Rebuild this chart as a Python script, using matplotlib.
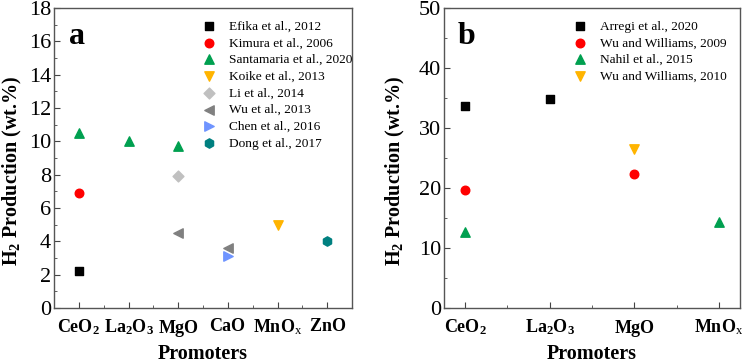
import matplotlib.pyplot as plt

plt.rcParams["font.family"] = "Liberation Serif"
plt.rcParams["mathtext.fontset"] = "custom"
plt.rcParams["mathtext.rm"] = "Liberation Serif"
plt.rcParams["mathtext.bf"] = "Liberation Serif:bold"
plt.rcParams["mathtext.it"] = "Liberation Serif:italic"

# panel a
cats_a = [r"$\mathbf{CeO_2}$", r"$\mathbf{La_2O_3}$", r"$\mathbf{MgO}$",
          r"$\mathbf{CaO}$", r"$\mathbf{MnO}_\mathrm{x}$", r"$\mathbf{ZnO}$"]
efika_x, efika_y = [1], [2.2]
kimura_x, kimura_y = [1], [6.9]
santamaria_x, santamaria_y = [1, 2, 3], [10.5, 10.0, 9.7]
koike_x, koike_y = [5], [4.95]
li_x, li_y = [3], [7.9]
wu13_x, wu13_y = [3, 4], [4.5, 3.6]
chen_x, chen_y = [4], [3.1]
dong_x, dong_y = [6], [4.0]

# panel b
cats_b = [r"$\mathbf{CeO_2}$", r"$\mathbf{La_2O_3}$", r"$\mathbf{MgO}$", r"$\mathbf{MnO}_\mathrm{x}$"]
arregi_x, arregi_y = [1, 2], [33.7, 34.9]
ww09_x, ww09_y = [1, 3], [19.6, 22.3]
nahil_x, nahil_y = [1, 4], [12.7, 14.4]
ww10_x, ww10_y = [3], [26.5]

BLACK = "#000000"
RED = "#ff0000"
GREEN = "#00a050"
ORANGE = "#ffb400"
LGREY = "#c0c0c0"
GREY = "#808080"
BLUE = "#6f94ff"
TEAL = "#008080"


def style_axes(ax, ymax, ystep, xlim, ncat, ylab_x):
    ax.set_xlim(*xlim)
    ax.set_ylim(0, ymax)
    ax.set_xticks(range(1, ncat + 1))
    ax.set_xticks([i + 0.5 for i in range(1, ncat)], minor=True)
    ax.set_yticks(range(0, ymax + 1, ystep))
    ax.set_yticks([v + ystep / 2 for v in range(0, ymax, ystep)], minor=True)
    ax.tick_params(which="both", direction="in", colors="#444444", labelcolor="black")
    ax.tick_params(which="major", length=4)
    ax.tick_params(which="minor", length=2)
    ax.tick_params(axis="y", labelsize=16, pad=2)
    ax.tick_params(axis="x", labelsize=13, pad=7)
    for s in ax.spines.values():
        s.set_color("#555555")
        s.set_linewidth(1.0)
    ax.set_xlabel("Promoters", fontsize=14.5, fontweight="bold", labelpad=4)
    ax.set_ylabel(r"$\mathbf{H_2}$ Production (wt.%)", fontsize=14.5, fontweight="bold")
    ax.yaxis.set_label_coords(ylab_x, 0.457)


fig = plt.figure(figsize=(7.42, 3.64), dpi=100)
ax1 = fig.add_axes([0.0728, 0.154, 0.4016, 0.824])
ax2 = fig.add_axes([0.5984, 0.154, 0.3989, 0.824])

ms = 38
ax1.scatter(efika_x, efika_y, marker="s", s=ms * 0.8, color=BLACK, label="Efika et al., 2012")
ax1.scatter(kimura_x, kimura_y, marker="o", s=ms, color=RED, label="Kimura et al., 2006")
ax1.scatter(santamaria_x, santamaria_y, marker="^", s=ms * 1.2, color=GREEN, label="Santamaria et al., 2020")
ax1.scatter(koike_x, koike_y, marker="v", s=ms * 1.2, color=ORANGE, label="Koike et al., 2013")
ax1.scatter(li_x, li_y, marker="D", s=ms * 0.8, color=LGREY, label="Li et al., 2014")
ax1.scatter(wu13_x, wu13_y, marker="<", s=ms * 1.2, color=GREY, label="Wu et al., 2013")
ax1.scatter(chen_x, chen_y, marker=">", s=ms * 1.2, color=BLUE, label="Chen et al., 2016")
ax1.scatter(dong_x, dong_y, marker="h", s=ms * 1.2, color=TEAL, label="Dong et al., 2017")
style_axes(ax1, 18, 2, (0.5, 6.5), 6, -0.10)
ax1.set_xticklabels(cats_a)
ax1.text(0.05, 0.955, "a", transform=ax1.transAxes, fontsize=23, fontweight="bold", va="top")
ax1.legend(loc="upper left", bbox_to_anchor=(0.44, 0.995), frameon=False, fontsize=9.6,
           handletextpad=0.5, labelspacing=0.33, borderpad=0.3)

ax2.scatter(arregi_x, arregi_y, marker="s", s=ms * 0.8, color=BLACK, label="Arregi et al., 2020")
ax2.scatter(ww09_x, ww09_y, marker="o", s=ms, color=RED, label="Wu and Williams, 2009")
ax2.scatter(nahil_x, nahil_y, marker="^", s=ms * 1.2, color=GREEN, label="Nahil et al., 2015")
ax2.scatter(ww10_x, ww10_y, marker="v", s=ms * 1.2, color=ORANGE, label="Wu and Williams, 2010")
style_axes(ax2, 50, 10, (0.75, 4.25), 4, -0.125)
ax2.set_xticklabels(cats_b)
ax2.text(0.045, 0.955, "b", transform=ax2.transAxes, fontsize=23, fontweight="bold", va="top")
ax2.legend(loc="upper left", bbox_to_anchor=(0.38, 0.995), frameon=False, fontsize=9.6,
           handletextpad=0.5, labelspacing=0.33, borderpad=0.3)

fig.savefig("out.png", dpi=100)
